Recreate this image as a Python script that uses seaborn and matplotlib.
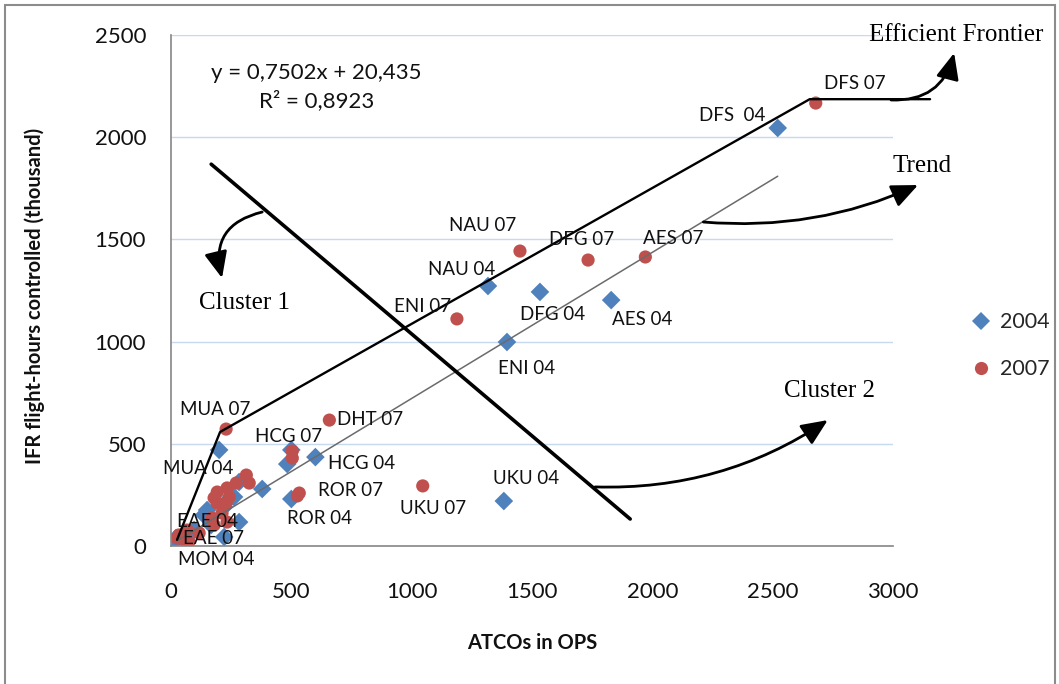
import pandas as pd
import matplotlib.pyplot as plt
import seaborn as sns
from matplotlib.patches import Rectangle

# ATCOs in OPS vs IFR flight-hours controlled (thousand)
atcos_2004 = [2521, 1829, 1533, 1317, 1396, 1383, 600, 200, 500, 21, 12,
              500, 483, 379, 283, 262, 229, 221, 150, 137, 283, 221, 96, 167]
flights_2004 = [2045, 1203, 1243, 1272, 998, 220, 435, 470, 230, 39, 20,
                470, 401, 279, 313, 240, 215, 191, 176, 152, 117, 44, 78, 103]
labels_2004 = ["DFS  04", "AES 04", "DFG 04", "NAU 04", "ENI 04", "UKU 04",
               "HCG 04", "MUA 04", "ROR 04", "EAE 04", "MOM 04"]

atcos_2007 = [2679, 1971, 1733, 1450, 1188, 658, 229, 504, 533, 1046, 54,
              504, 525, 313, 325, 271, 233, 192, 179, 192, 242, 229, 212,
              171, 179, 233, 33, 75, 25, 67, 117]
flights_2007 = [2167, 1414, 1399, 1443, 1111, 616, 572, 465, 259, 294, 29,
                430, 245, 347, 308, 308, 284, 264, 235, 210, 240, 210, 161,
                137, 103, 117, 54, 20, 39, 78, 64]
labels_2007 = ["DFS 07", "AES 07", "DFG 07", "NAU 07", "ENI 07", "DHT 07",
               "MUA 07", "HCG 07", "ROR 07", "UKU 07", "EAE 07"]

# hand drawn lines (data units)
frontier_x = [25, 204, 2654, 3154]
frontier_y = [30, 558, 2186, 2186]
trend_x = [25, 2521]
trend_y = [25, 1809]
divider_x = [167, 1908]
divider_y = [1868, 132]

# label offsets in pixels (right, up) from the point
label_offsets = {
    "DFS 07": (39, 20), "DFS  04": (-46, 13), "NAU 07": (-37, 26),
    "DFG 07": (-7, 21), "AES 07": (28, 18), "NAU 04": (-26, 17),
    "DFG 04": (13, -23), "AES 04": (31, -19), "ENI 07": (-34, 12),
    "ENI 04": (20, -26), "MUA 07": (-11, 20), "DHT 07": (41, 1),
    "HCG 07": (-4, 14), "HCG 04": (46, -6), "MUA 04": (-21, -19),
    "ROR 07": (51, 3), "UKU 04": (22, 23), "UKU 07": (10, -23),
    "ROR 04": (28, -20), "EAE 04": (31, 17), "EAE 07": (30, 2),
    "MOM 04": (42, -18),
}

df = pd.concat([
    pd.DataFrame({"atcos": atcos_2004, "flights": flights_2004, "year": "2004"}),
    pd.DataFrame({"atcos": atcos_2007, "flights": flights_2007, "year": "2007"}),
], ignore_index=True)

sns.set_style("white")
plt.rcParams["font.family"] = ["Lato", "DejaVu Sans"]
serif = ["Liberation Serif", "DejaVu Serif"]
text_col = "#111111"

fig = plt.figure(figsize=(10.59, 6.84), dpi=100)
ax = fig.add_axes([171 / 1059, 1 - 546 / 684, 722 / 1059, 511 / 684])

sns.scatterplot(data=df, x="atcos", y="flights", hue="year", style="year",
                palette={"2004": "#4F81BD", "2007": "#C0504D"},
                markers={"2004": "D", "2007": "o"},
                s=90, linewidth=0, ax=ax, zorder=2)

ax.set_xlim(0, 3000)
ax.set_ylim(0, 2500)
ax.set_xticks(range(0, 3001, 500))
ax.set_yticks(range(0, 2501, 500))
ax.grid(axis="y", color="#C6D9F1", linewidth=1)
ax.set_axisbelow(True)
sns.despine(ax=ax)
for side in ["left", "bottom"]:
    ax.spines[side].set_color("#868686")
    ax.spines[side].set_linewidth(1.2)
ax.tick_params(axis="both", length=0, labelsize=16, labelcolor=text_col)
ax.tick_params(axis="y", pad=18)
ax.tick_params(axis="x", pad=26)

ax.set_xlabel("ATCOs in OPS", fontsize=14.5, fontweight="bold", color=text_col)
ax.set_ylabel("IFR flight-hours controlled (thousand)", fontsize=14.5,
              fontweight="bold", color=text_col)
ax.xaxis.set_label_coords(0.5, -0.17)
ax.yaxis.set_label_coords(-0.175, 0.49)

# lines
ax.plot(trend_x, trend_y, color="#6b6b6b", linewidth=1.1, zorder=3)
ax.plot(frontier_x, frontier_y, color="black", linewidth=1.7, zorder=3,
        clip_on=False)
ax.plot(divider_x, divider_y, color="black", linewidth=2.6, zorder=3)

# point labels
for xs, ys, labs in [(atcos_2004, flights_2004, labels_2004),
                     (atcos_2007, flights_2007, labels_2007)]:
    for x, y, lab in zip(xs, ys, labs):
        ax.annotate(lab, (x, y), xytext=label_offsets[lab],
                    textcoords="offset pixels", ha="center", va="center",
                    fontsize=13.5, color=text_col, zorder=4)

ax.text(604, 2245, "y = 0,7502x + 20,435\nR² = 0,8923", ha="center",
        va="center", fontsize=16, color=text_col, linespacing=1.45)

# curved arrows
arrows = [
    ((379, 1634), (212, 1311), 0.5),
    ((2992, 2182), (3254, 2412), 0.4),
    ((2212, 1585), (3104, 1766), 0.13),
    ((1762, 289), (2729, 616), 0.16),
]
for start, end, rad in arrows:
    ax.annotate("", xy=end, xytext=start, annotation_clip=False,
                arrowprops=dict(arrowstyle="-|>,head_length=0.8,head_width=0.35",
                                connectionstyle=f"arc3,rad={rad}",
                                color="black", lw=2, mutation_scale=20,
                                shrinkA=0, shrinkB=0))

for txt, pos in [("Efficient Frontier", (3262, 2500)), ("Trend", (3121, 1859)),
                 ("Cluster 1", (304, 1188)), ("Cluster 2", (2738, 758))]:
    ax.text(pos[0], pos[1], txt, family=serif, fontsize=18, ha="center",
            va="center", color="black", clip_on=False)

sns.move_legend(ax, "center left", bbox_to_anchor=(1.08, 0.392),
                frameon=False, title=None, fontsize=15.5, labelspacing=1.25,
                handlelength=1.0, handletextpad=0.4)

fig.patches.append(Rectangle((5 / 1059, -0.01), 1050 / 1059, 1 - 5 / 684 + 0.01,
                             transform=fig.transFigure, fill=False,
                             edgecolor="#8c8c8c", linewidth=1.5))

fig.savefig("out.png", dpi=100)
